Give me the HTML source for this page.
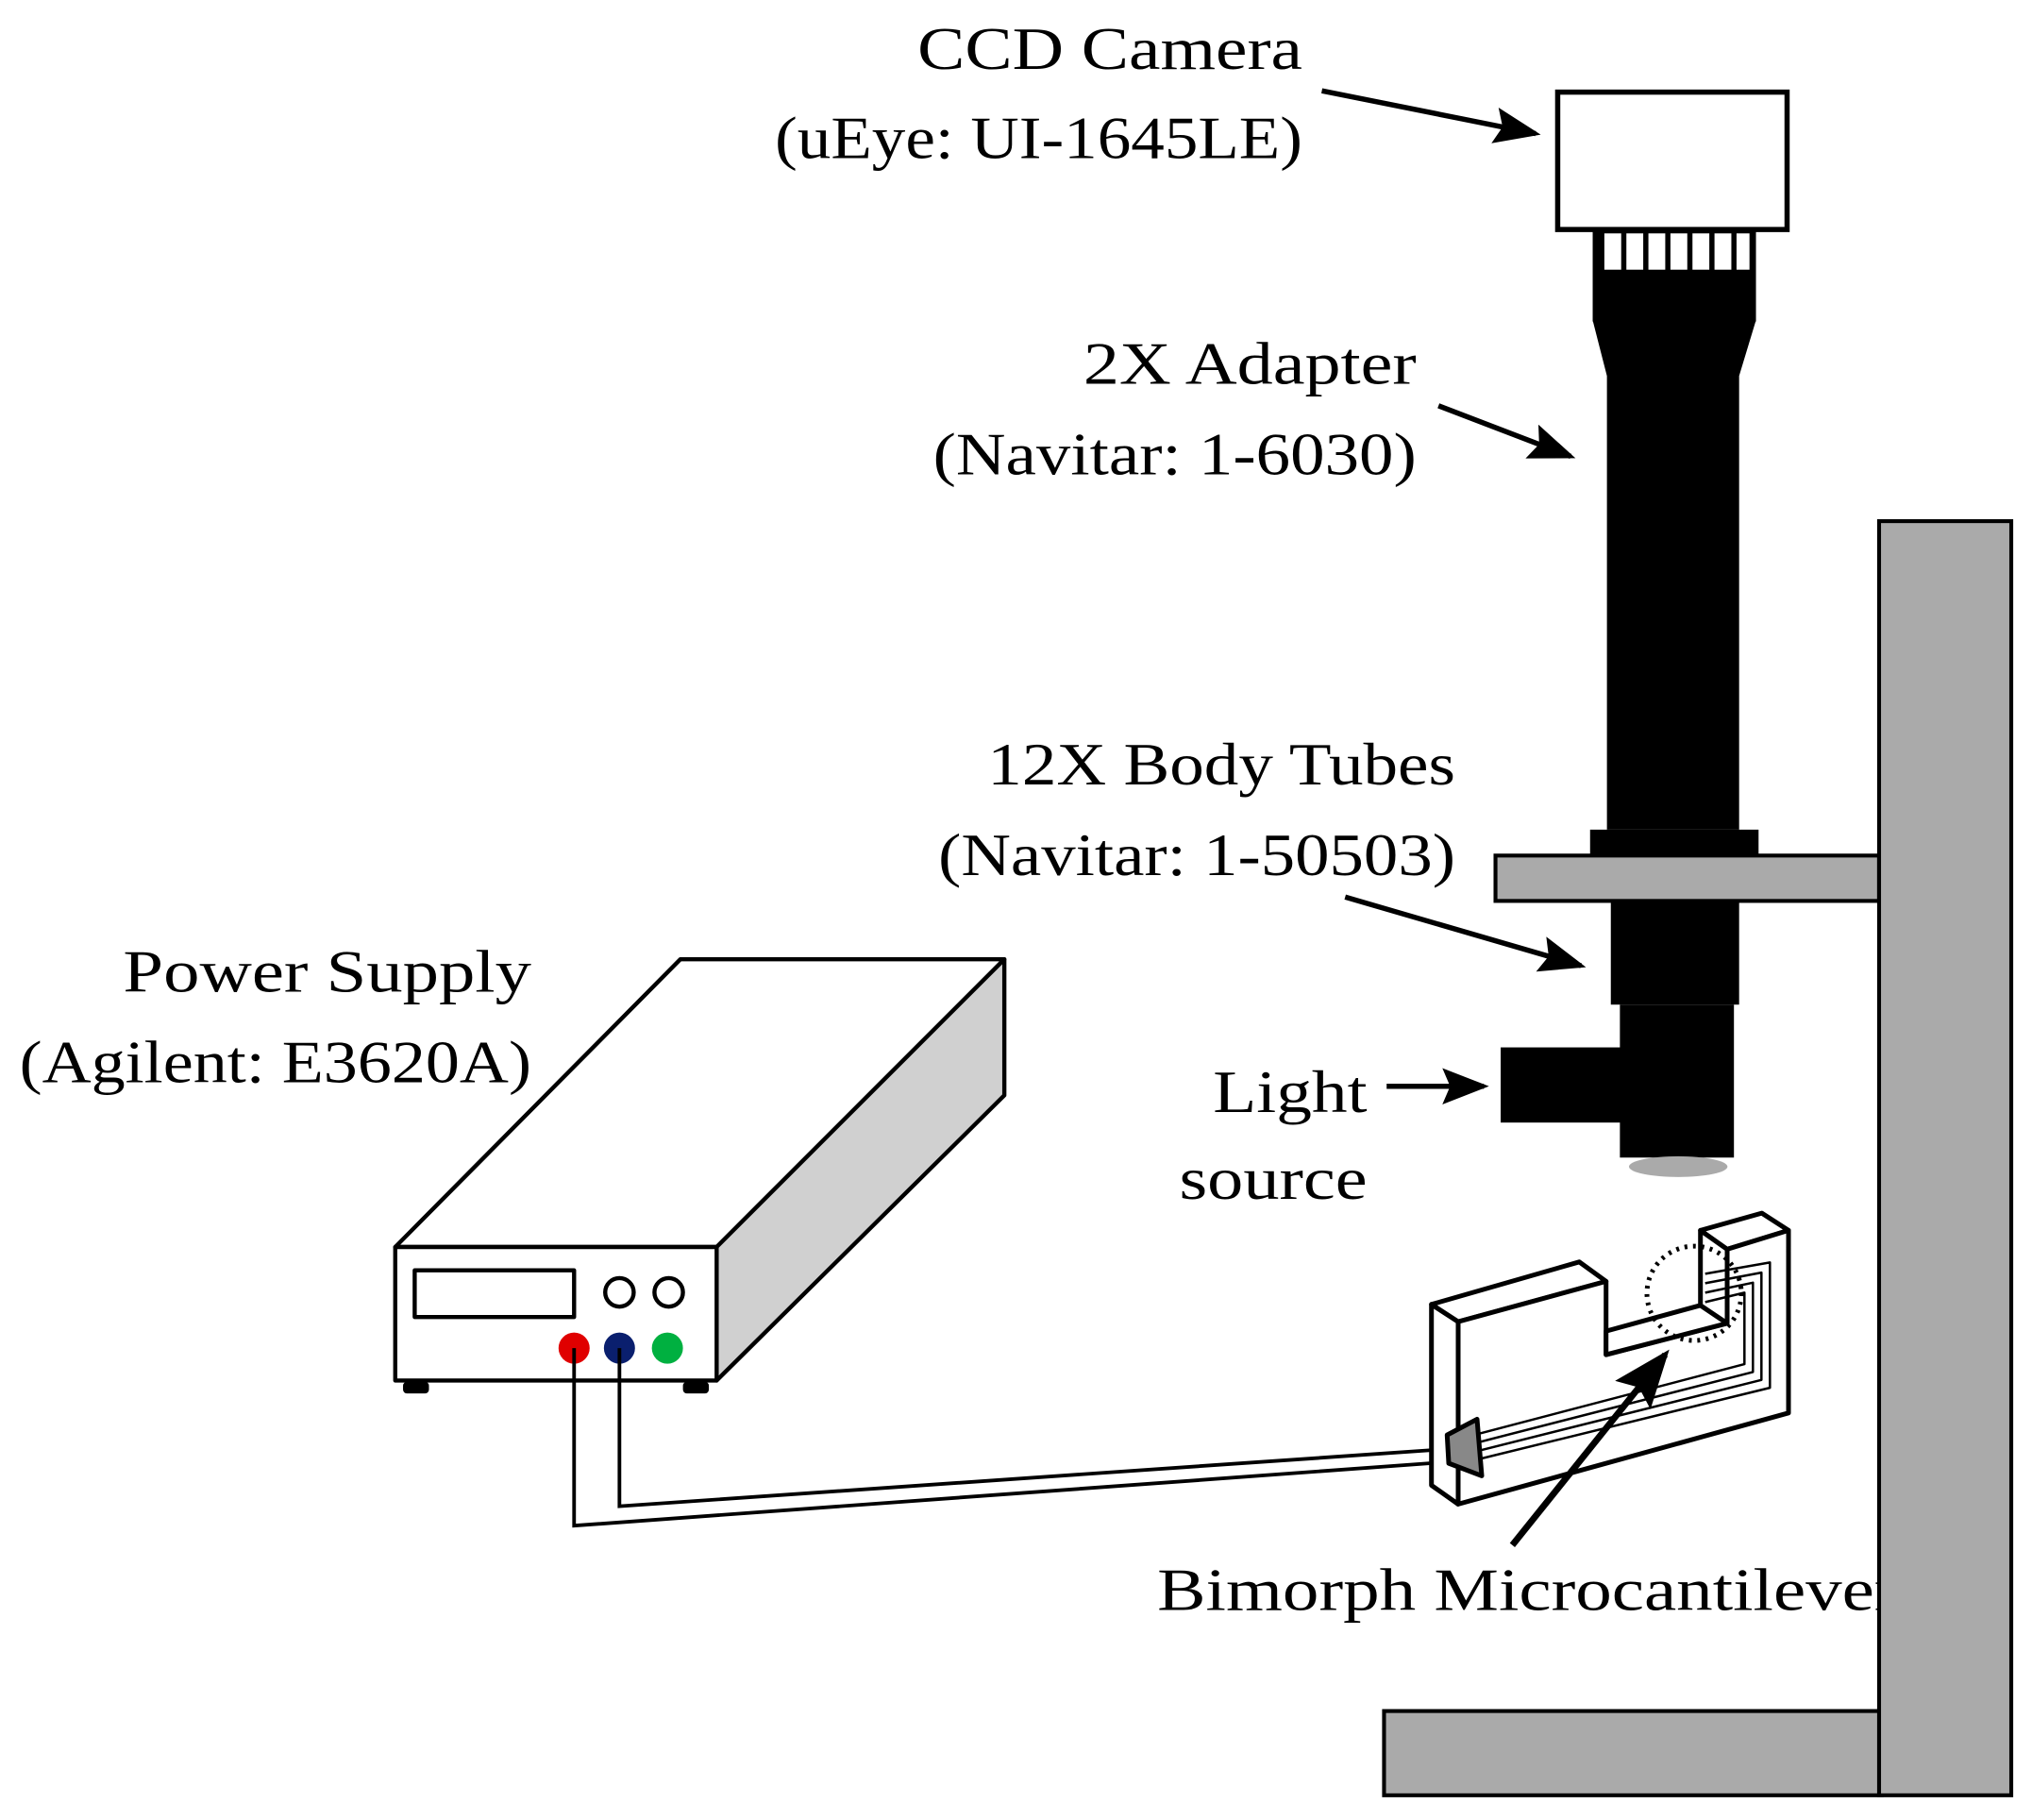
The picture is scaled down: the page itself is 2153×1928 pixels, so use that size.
<!DOCTYPE html>
<html><head><meta charset="utf-8"><style>html,body{margin:0;padding:0;background:#fff}svg{display:block}</style></head>
<body>
<svg xmlns="http://www.w3.org/2000/svg" width="2153" height="1928" viewBox="0 0 1568 1404">
<defs><marker id="ah" markerWidth="9" markerHeight="7" refX="8" refY="3.5" orient="auto" markerUnits="strokeWidth"><path d="M0,0 L9,3.5 L0,7 L1.5,3.5 z" fill="#000"/></marker></defs>
<rect width="1568" height="1404" fill="#fff"/>
<g font-family="'Liberation Serif', serif" font-size="46" fill="#000" text-anchor="end">
<text x="1005" y="53" textLength="297" lengthAdjust="spacingAndGlyphs">CCD Camera</text>
<text x="1005" y="122" textLength="407" lengthAdjust="spacingAndGlyphs">(uEye: UI-1645LE)</text>
<text x="1093" y="296" textLength="257" lengthAdjust="spacingAndGlyphs">2X Adapter</text>
<text x="1093" y="366" textLength="373" lengthAdjust="spacingAndGlyphs">(Navitar: 1-6030)</text>
<text x="1123" y="605" textLength="361" lengthAdjust="spacingAndGlyphs">12X Body Tubes</text>
<text x="1123" y="675" textLength="399" lengthAdjust="spacingAndGlyphs">(Navitar: 1-50503)</text>
<text x="410" y="765" textLength="315" lengthAdjust="spacingAndGlyphs">Power Supply</text>
<text x="410" y="835" textLength="395" lengthAdjust="spacingAndGlyphs">(Agilent: E3620A)</text>
<text x="1055" y="858" textLength="119" lengthAdjust="spacingAndGlyphs">Light</text>
<text x="1055" y="925" textLength="145" lengthAdjust="spacingAndGlyphs">source</text>
<text x="1465" y="1242" textLength="572" lengthAdjust="spacingAndGlyphs">Bimorph Microcantilever</text>
</g>
<rect x="1202" y="71" width="177" height="106" fill="#fff" stroke="#000" stroke-width="4"/>
<rect x="1229" y="178" width="126" height="70" fill="#000"/>
<g fill="#fff"><rect x="1238" y="180" width="13" height="28"/><rect x="1255" y="180" width="13" height="28"/><rect x="1272" y="180" width="13" height="28"/><rect x="1289" y="180" width="13" height="28"/><rect x="1306" y="180" width="13" height="28"/><rect x="1323" y="180" width="13" height="28"/><rect x="1340" y="180" width="10" height="28"/></g>
<path d="M1229,247 L1355,247 L1342,290 L1342,640 L1240,640 L1240,290 Z" fill="#000"/>
<rect x="1227" y="640" width="130" height="22" fill="#000"/>
<rect x="1154" y="660" width="296" height="35" fill="#aaa" stroke="#000" stroke-width="3"/>
<rect x="1243" y="695" width="99" height="80" fill="#000"/>
<rect x="1250" y="775" width="88" height="118" fill="#000"/>
<rect x="1158" y="808" width="95" height="58" fill="#000"/>
<ellipse cx="1295" cy="900" rx="38" ry="8" fill="#aaa"/>
<rect x="1068" y="1320" width="384" height="65" fill="#aaa" stroke="#000" stroke-width="3"/>
<rect x="1450" y="402" width="102" height="983" fill="#aaa" stroke="#000" stroke-width="3"/>
<g stroke="#000" stroke-width="4" fill="none" marker-end="url(#ah)">
<line x1="1020" y1="70" x2="1185" y2="103"/>
<line x1="1110" y1="313" x2="1212" y2="352"/>
<line x1="1038" y1="692" x2="1220" y2="745"/>
<line x1="1070" y1="838" x2="1145" y2="838"/>
</g>
<g stroke="#000" stroke-width="3.2" stroke-linejoin="round">
<polygon points="305,962 525,740 775,740 553,962" fill="#fff"/>
<polygon points="553,962 775,740 775,845 553,1065" fill="#d0d0d0"/>
<rect x="305" y="962" width="248" height="103" fill="#fff"/>
<rect x="320" y="980" width="123" height="36" fill="#fff"/>
<circle cx="478" cy="997" r="11" fill="#fff"/>
<circle cx="516" cy="997" r="11" fill="#fff"/>
</g>
<circle cx="443" cy="1040" r="12" fill="#e00000"/>
<circle cx="478" cy="1040" r="12" fill="#0a1f6e"/>
<circle cx="515" cy="1040" r="12" fill="#00b040"/>
<rect x="311" y="1066" width="20" height="9" rx="3" fill="#000"/>
<rect x="527" y="1066" width="20" height="9" rx="3" fill="#000"/>
<g stroke="#000" stroke-width="2.8" fill="none">
<polyline points="443,1040 443,1177 1115,1128"/>
<polyline points="478,1040 478,1162 1115,1118"/>
</g>
<g transform="scale(0.72829)" stroke="#000" stroke-width="5" stroke-linejoin="round">
<polygon points="1516.7,1381.7 1545,1400 1545,1593.3 1516.7,1573.3" fill="#fff"/>
<polygon points="1516.7,1381.7 1673.3,1336.7 1701.7,1357.3 1545,1400" fill="#fff"/>
<polygon points="1801.7,1303.3 1866.7,1285 1895,1303.3 1830,1323.3" fill="#fff"/>
<polygon points="1545,1400 1701.7,1357.3 1701.7,1435 1830,1401.7 1830,1323.3 1895,1303.3 1895,1496.7 1545,1593.3" fill="#fff"/>
<polygon points="1701.7,1410 1801.7,1382.7 1830,1401.7 1701.7,1435" fill="#fff"/>
<polygon points="1801.7,1303.3 1830,1323.3 1830,1401.7 1801.7,1382.7" fill="#fff"/>
<g fill="none" stroke-width="2.5">
<polyline points="1568.3,1518.3 1848.3,1445 1848.3,1369.3 1806.7,1379.3"/>
<polyline points="1568.3,1527.3 1857.3,1453.3 1857.3,1358.7 1806.7,1369.3"/>
<polyline points="1568.3,1536.3 1866.3,1461.7 1866.3,1348 1806.7,1359.3"/>
<polyline points="1568.3,1545.3 1875.3,1470 1875.3,1337.3 1806.7,1349.3"/>
</g>
<polygon points="1533.3,1520 1565,1503.3 1570,1563.3 1535,1550" fill="#888"/>
<circle cx="1795" cy="1370" r="50" fill="none" stroke-width="5" stroke-dasharray="3 6"/>
</g>
<line x1="1167" y1="1192" x2="1285" y2="1045" stroke="#000" stroke-width="5" marker-end="url(#ah)"/>
</svg>
</body></html>
